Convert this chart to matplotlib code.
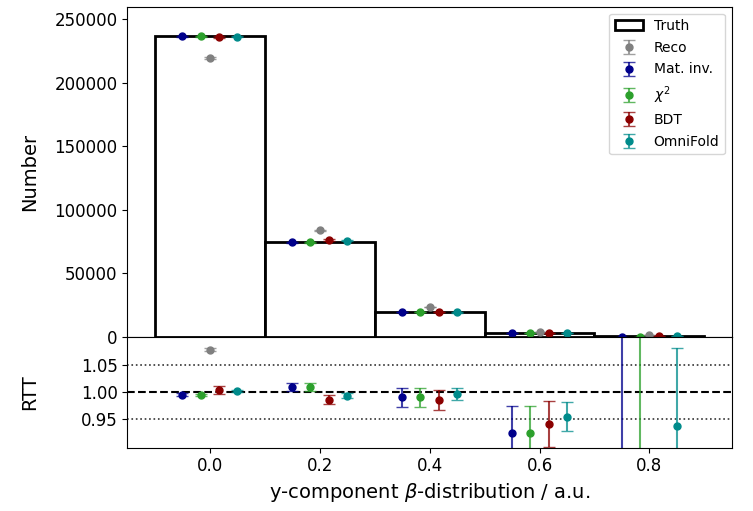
import matplotlib
matplotlib.use('Agg')
import matplotlib.pyplot as plt
from matplotlib.colors import to_rgba

# bin centres of the y-component beta-distribution
binCenters = [0.0, 0.2, 0.4, 0.6, 0.8]
binWidth = 0.2

truth = [236500, 75000, 19200, 2700, 550]

reco = [219500, 84000, 23600, 3900, 1300]
recoErr = [600, 400, 200, 80, 40]

matInv = [236500, 74300, 19400, 2900, 60]
matInvErr = [500, 500, 300, 130, 90]
chi2 = [236500, 74300, 19400, 2900, 60]
chi2Err = [400, 500, 300, 130, 90]
bdt = [235800, 76000, 19500, 2860, 300]
bdtErr = [800, 600, 350, 120, 60]
omni = [236200, 75500, 19300, 2830, 590]
omniErr = [400, 400, 220, 80, 90]

# truth over unfolded (RTT)
recoRtt = [1.077, 0.88, 0.81, 0.69, 0.42]
recoRttErr = [0.003, 0.002, 0.004, 0.01, 0.02]
matInvRtt = [0.995, 1.009, 0.990, 0.925, 3.0]
matInvRttErr = [0.003, 0.008, 0.018, 0.050, 2.5]
chi2Rtt = [0.995, 1.009, 0.990, 0.925, 3.0]
chi2RttErr = [0.002, 0.0075, 0.018, 0.050, 2.5]
bdtRtt = [1.003, 0.986, 0.985, 0.942, 1.8]
bdtRttErr = [0.0075, 0.009, 0.018, 0.042, 0.3]
omniRtt = [1.001, 0.993, 0.996, 0.955, 0.937]
omniRttErr = [0.002, 0.005, 0.011, 0.026, 0.144]

methodNames = ['Mat. inv.', r'$\chi^2$', 'BDT', 'OmniFold']
colors = ['darkblue', 'tab:green', 'darkred', 'darkcyan']
offsets = [-0.05, -0.0167, 0.0167, 0.05]
values = [matInv, chi2, bdt, omni]
errors = [matInvErr, chi2Err, bdtErr, omniErr]
rtts = [matInvRtt, chi2Rtt, bdtRtt, omniRtt]
rttErrs = [matInvRttErr, chi2RttErr, bdtRttErr, omniRttErr]

errAlpha = 0.75

fig = plt.figure(figsize=(7.53, 5.11), dpi=100)
axTop = fig.add_axes([0.169, 0.341, 0.803, 0.646])
axBot = fig.add_axes([0.169, 0.124, 0.803, 0.217], sharex=axTop)

axTop.bar(binCenters, truth, width=binWidth, facecolor='white',
          edgecolor='black', linewidth=2, label='Truth')
axTop.errorbar(binCenters, reco, yerr=recoErr, fmt='o', color='grey',
               ecolor=to_rgba('grey', errAlpha), markersize=5, capsize=4,
               label='Reco')
for index in range(len(methodNames)):
    xs = [x + offsets[index] for x in binCenters]
    axTop.errorbar(xs, values[index], yerr=errors[index], fmt='o',
                   color=colors[index],
                   ecolor=to_rgba(colors[index], errAlpha),
                   markersize=5, capsize=4, label=methodNames[index])

axTop.set_ylim(0, 260000)
axTop.set_xlim(-0.15, 0.95)
axTop.set_ylabel('Number', fontsize=14)
axTop.yaxis.set_label_coords(-0.145, 0.5)
axTop.tick_params(axis='x', which='both', bottom=False, labelbottom=False)
axTop.tick_params(axis='y', labelsize=12)
axTop.legend(loc='upper right', fontsize=10, labelspacing=0.55)

axBot.axhline(1.0, color='black', linestyle='--', linewidth=1.5, zorder=0)
axBot.axhline(1.05, color='black', linestyle=':', linewidth=1.2, alpha=0.8,
              zorder=0)
axBot.axhline(0.95, color='black', linestyle=':', linewidth=1.2, alpha=0.8,
              zorder=0)
axBot.errorbar(binCenters, recoRtt, yerr=recoRttErr, fmt='o', color='grey',
               ecolor=to_rgba('grey', errAlpha), markersize=5, capsize=4)
for index in range(len(methodNames)):
    xs = [x + offsets[index] for x in binCenters]
    axBot.errorbar(xs, rtts[index], yerr=rttErrs[index], fmt='o',
                   color=colors[index],
                   ecolor=to_rgba(colors[index], errAlpha),
                   markersize=5, capsize=4, elinewidth=1.5)

axBot.set_ylim(0.898, 1.101)
axBot.set_yticks([0.95, 1.0, 1.05])
axBot.set_yticklabels(['0.95', '1.00', '1.05'])
axBot.set_xticks([0.0, 0.2, 0.4, 0.6, 0.8])
axBot.tick_params(axis='both', labelsize=12)
axBot.set_ylabel('RTT', fontsize=14)
axBot.yaxis.set_label_coords(-0.145, 0.5)
axBot.set_xlabel(r'y-component $\beta$-distribution / a.u.', fontsize=14)

plt.savefig('out.png', dpi=100)
plt.close()
